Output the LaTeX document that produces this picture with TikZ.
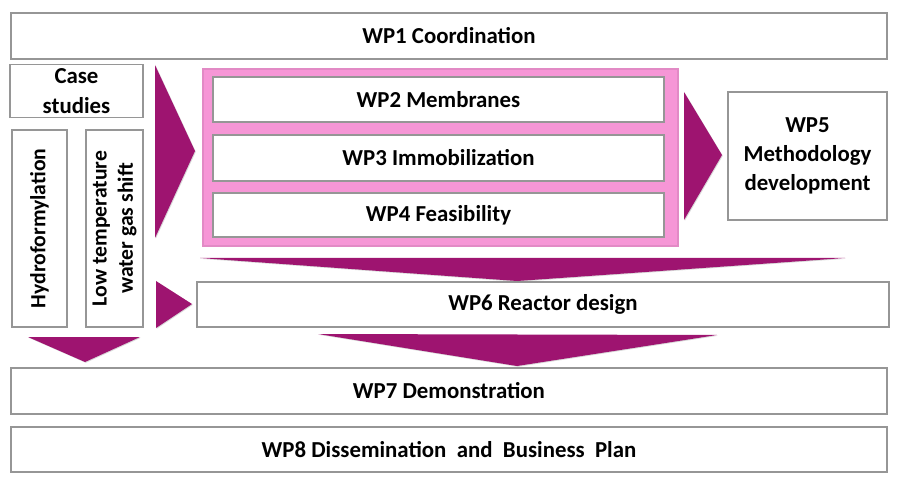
\documentclass[tikz,border=0pt]{standalone}
\usepackage{fontspec}
\setmainfont{Carlito}
\usetikzlibrary{shadows}
\definecolor{wpmagenta}{RGB}{158,20,112}
\definecolor{wppink}{RGB}{246,150,214}
\definecolor{wpgray}{RGB}{150,150,150}
\begin{document}
\begin{tikzpicture}[x=0.03cm,y=-0.03cm,
    wpbox/.style={draw=wpgray,line width=1.2pt,fill=white,inner sep=0pt,align=center,
      font=\bfseries\fontsize{19.5}{25}\selectfont,
      drop shadow={opacity=0.3,shadow xshift=0.7pt,shadow yshift=-0.7pt}},
    bigarrow/.style={fill=wpmagenta,drop shadow={opacity=0.3,shadow xshift=0.7pt,shadow yshift=-0.7pt}}]
    \useasboundingbox (0,0) rectangle (900,486);
    \node[wpbox,minimum width=26.28cm,minimum height=1.38cm] (wp1) at (449,36) {WP1 Coordination};
    \node[wpbox,minimum width=3.99cm,minimum height=1.59cm] (cases) at (76.5,91) {Case\\studies};
    \node[wpbox,rotate=90,minimum width=5.91cm,minimum height=1.65cm,font=\bfseries\fontsize{18.5}{23}\selectfont] (hydro) at (39.5,228.5) {Hydroformylation};
    \node[wpbox,rotate=90,minimum width=5.91cm,minimum height=1.71cm,font=\bfseries\fontsize{18.5}{22.5}\selectfont] (lowtemp) at (114.5,228.5) {Low temperature\\water gas shift};
    \node[draw=wppink!92!black,fill=wppink,line width=1pt,minimum width=14.25cm,minimum height=5.31cm,
      drop shadow={opacity=0.3,shadow xshift=0.7pt,shadow yshift=-0.7pt}] (core) at (440.5,157.5) {};
    \node[wpbox,minimum width=13.53cm,minimum height=1.35cm] (wp2) at (438.5,99.5) {WP2 Membranes};
    \node[wpbox,minimum width=13.53cm,minimum height=1.38cm] (wp3) at (438.5,158) {WP3 Immobilization};
    \node[wpbox,minimum width=13.53cm,minimum height=1.32cm] (wp4) at (438.5,215) {WP4 Feasibility};
    \node[wpbox,minimum width=4.77cm,minimum height=3.84cm] (wp5) at (807.5,156) {WP5\\Methodology\\development};
    \node[wpbox,minimum width=20.76cm,minimum height=1.35cm] (wp6) at (543,304.5) {WP6 Reactor design};
    \node[wpbox,minimum width=26.28cm,minimum height=1.38cm] (wp7) at (449,391) {WP7 Demonstration};
    \node[wpbox,minimum width=26.28cm,minimum height=1.35cm] (wp8) at (449,449.5) {WP8 Dissemination~ and~ Business~ Plan};
    \fill[bigarrow] (155,65) -- (195,151) -- (155,238) -- cycle;
    \fill[bigarrow] (684,92) -- (722,155) -- (684,220) -- cycle;
    \fill[bigarrow] (200,258) -- (845,258) -- (517,281) -- cycle;
    \fill[bigarrow] (156,281) -- (192,304) -- (156,328) -- cycle;
    \fill[bigarrow] (318,334) -- (717,335) -- (517,366) -- cycle;
    \fill[bigarrow] (28,337) -- (140,337) -- (85,362) -- cycle;
\end{tikzpicture}
\end{document}
